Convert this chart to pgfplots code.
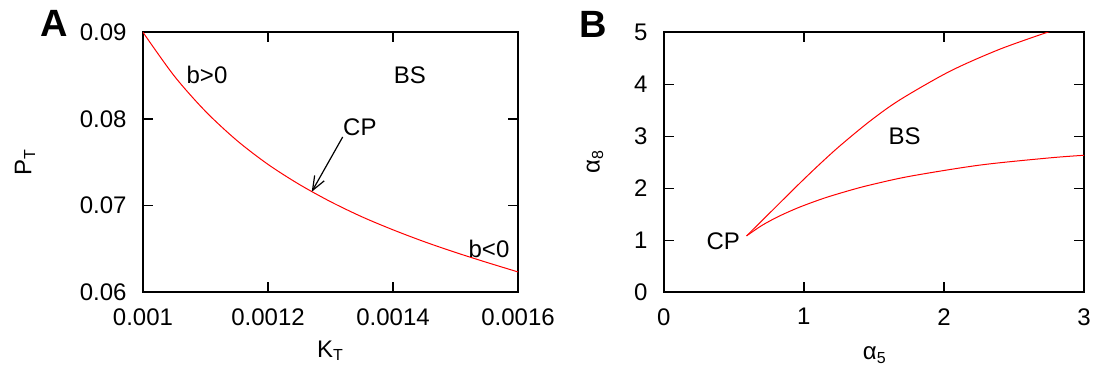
\documentclass[border=0pt]{standalone}
\usepackage{fontspec}
\setmainfont{Liberation Sans}
\usepackage{pgfplots}
\pgfplotsset{compat=1.18}
\usetikzlibrary{arrows.meta}

% shared look of both bifurcation panels
\pgfplotsset{
  phase/.style={
    scale only axis,
    height=130pt,
    axis line style={line width=0.9pt},
    every tick/.style={black, line width=0.8pt},
    major tick length=5pt,
    tick align=inside,
    scaled ticks=false,
    xticklabel style={inner sep=0pt, anchor=north, yshift=-7.8pt},
    yticklabel style={inner sep=0pt, anchor=east, xshift=-8pt},
    tick label style={font=\fontsize{12}{14}\selectfont},
  },
  branch/.style={red, line width=0.5pt, mark=none, smooth},
}

\begin{document}
\begin{tikzpicture}[font=\fontsize{12}{14}\selectfont]
\path[use as bounding box] (-71.5pt,-38.3pt) rectangle (477pt,146.15pt);

% ---- panel A: fold curve in the (K_T, P_T) plane ----
\begin{axis}[phase,
  width=187.5pt, at={(0pt,0pt)}, anchor=south west,
  xmin=0.001, xmax=0.0016, ymin=0.06, ymax=0.09,
  xtick={0.001,0.0012,0.0014,0.0016},
  xticklabels={0.001,0.0012,0.0014,0.0016},
  ytick={0.06,0.07,0.08,0.09},
  yticklabels={0.06,0.07,0.08,0.09},
]
\addplot[branch] coordinates {
  (0.00100,0.09000) (0.00105,0.08496) (0.00110,0.08088) (0.00115,0.07753)
  (0.00120,0.07476) (0.00125,0.07245) (0.00130,0.07046) (0.00135,0.06872)
  (0.00140,0.06721) (0.00145,0.06584) (0.00150,0.06460) (0.00155,0.06345)
  (0.00160,0.06235)
};
\node at (axis cs:0.0011024,0.08507) {b>0};
\node at (axis cs:0.001427,0.08507) {BS};
\node at (axis cs:0.001347,0.07899) {CP};
\node at (axis cs:0.0015536,0.06498) {b<0};
\draw[black, line width=0.6pt, -{Straight Barb[length=7pt,width=5.5pt]}]
  (axis cs:0.0013195,0.07792) -- (axis cs:0.00127,0.0716);
\end{axis}
\node[rotate=90] at (-59pt,65.2pt) {P\textsubscript{T}};
\node at (93.75pt,-29.3pt) {K\textsubscript{T}};
\node[font=\fontsize{19}{22}\selectfont\bfseries] at (-44.5pt,134.2pt) {A};

% ---- panel B: cusp in the (alpha_5, alpha_8) plane ----
\begin{axis}[phase,
  width=210.1pt, at={(260.4pt,0pt)}, anchor=south west,
  xmin=0, xmax=3, ymin=0, ymax=5,
  xtick={0,1,2,3}, xticklabels={0,1,2,3},
  ytick={0,1,2,3,4,5}, yticklabels={0,1,2,3,4,5},
]
\addplot[branch] coordinates {
  (0.591,1.085) (0.7582,1.531) (0.9715,2.100) (1.1141,2.467)
  (1.2568,2.815) (1.4708,3.290) (1.6848,3.700) (2.0414,4.249)
  (2.398,4.674) (2.7546,5.015)
};
\addplot[branch] coordinates {
  (0.591,1.085) (0.70,1.285) (0.82,1.460) (0.9715,1.640)
  (1.1498,1.815) (1.3281,1.960) (1.4708,2.062) (1.7561,2.231)
  (2.2554,2.446) (2.7546,2.585) (3.0,2.635)
};
\node at (axis cs:0.4244,0.975) {CP};
\node at (axis cs:1.72,2.994) {BS};
\end{axis}
\node[rotate=90] at (226pt,65.2pt) {α\textsubscript{8}};
\node at (365.9pt,-31.3pt) {α\textsubscript{5}};
\node[font=\fontsize{19}{22}\selectfont\bfseries] at (225pt,133.7pt) {B};
\end{tikzpicture}
\end{document}
